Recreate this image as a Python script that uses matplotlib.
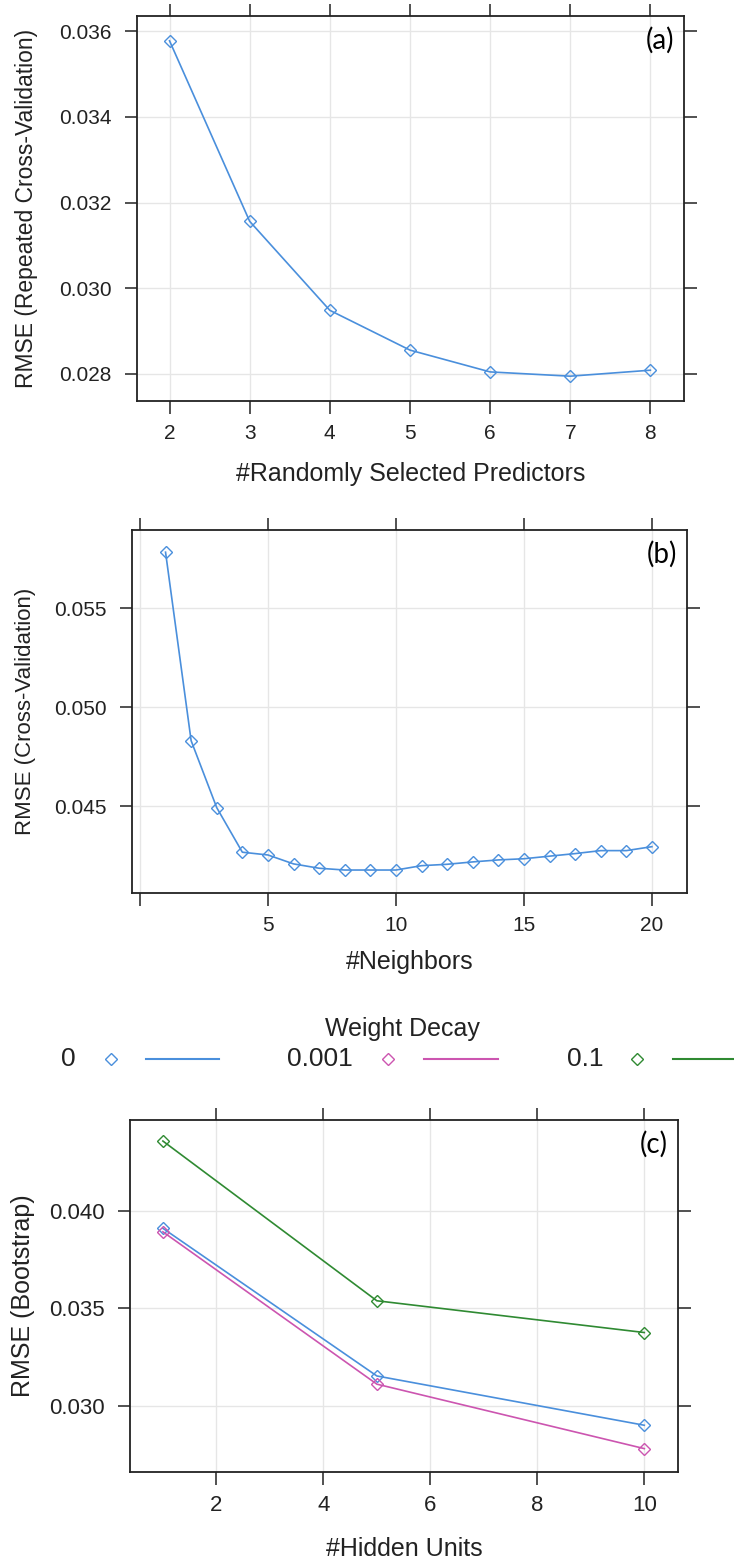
import matplotlib
matplotlib.use("Agg")
import matplotlib.pyplot as plt
from matplotlib.lines import Line2D

# ---- data ----
mtry = [2, 3, 4, 5, 6, 7, 8]
rmse_rf = [0.03578, 0.03156, 0.02948, 0.02855, 0.02804, 0.02794, 0.02808]

neighbors = list(range(1, 21))
rmse_knn = [0.05784, 0.04832, 0.04494, 0.04269, 0.04255, 0.04210, 0.04188,
            0.04179, 0.04179, 0.04179, 0.04201, 0.04208, 0.04220, 0.04230,
            0.04236, 0.04249, 0.04262, 0.04277, 0.04277, 0.04297]

hidden_units = [1, 5, 10]
decay_labels = ["0", "0.001", "0.1"]
rmse_nn = {
    "0": [0.03910, 0.03152, 0.02899],
    "0.001": [0.03892, 0.03110, 0.02779],
    "0.1": [0.04358, 0.03538, 0.03375],
}

BLUE = "#4a8fdc"
PINK = "#cc55b0"
GREEN = "#2f8a32"
decay_colors = [BLUE, PINK, GREEN]

W, H = 734, 1562
TICK_FONT = ["Liberation Sans Narrow", "Liberation Sans", "DejaVu Sans"]
LAB_FONT = ["Liberation Sans", "DejaVu Sans"]
INK = "#222222"

fig = plt.figure(figsize=(W / 100, H / 100), dpi=100)


def make_ax(left, top, right, bottom):
    return fig.add_axes([left / W, 1 - bottom / H, (right - left) / W, (bottom - top) / H])


def style(ax, box, xlim, ylim, xticks, xticklabels, yticks, yticklabels,
          xlabel, ylabel, tag, ylab_px, xlab_off, tick_fs, ylab_fs):
    left, top, right, bottom = box
    ax.set_xlim(*xlim)
    ax.set_ylim(*ylim)
    ax.set_xticks(xticks)
    ax.set_xticklabels(xticklabels, family=TICK_FONT, fontsize=tick_fs, color=INK)
    ax.set_yticks(yticks)
    ax.set_yticklabels(yticklabels, family=TICK_FONT, fontsize=tick_fs, color=INK)
    ax.tick_params(direction="out", length=9, width=1.1, top=True, right=True, color=INK)
    ax.tick_params(axis="x", pad=7.5)
    ax.tick_params(axis="y", pad=9.5)
    for s in ax.spines.values():
        s.set_linewidth(1.3)
        s.set_color(INK)
    ax.grid(True, color="#e6e6e6", lw=1)
    ax.set_axisbelow(True)
    ax.set_xlabel(xlabel, family=LAB_FONT, fontsize=18, color=INK)
    ax.set_ylabel(ylabel, family=LAB_FONT, fontsize=ylab_fs, color=INK)
    wpx = right - left
    hpx = bottom - top
    ax.xaxis.set_label_coords(0.5, -(xlab_off / hpx))
    ax.yaxis.set_label_coords((ylab_px - left) / wpx, 0.5)
    ax.text(1 - 10 / wpx, 1 - 24 / hpx, tag, transform=ax.transAxes,
            ha="right", va="center", fontsize=20, family=["Lato", "DejaVu Sans"])


mk = dict(marker="D", markersize=6, markerfacecolor="none", markeredgewidth=1, lw=1.2)

# (a) random forest
box_a = (137, 16, 684, 401)
ax1 = make_ax(*box_a)
ax1.plot(mtry, rmse_rf, color=BLUE, markeredgecolor=BLUE, **mk)
style(ax1, box_a, (1.594, 8.42), (0.02736, 0.03636),
      mtry, [str(m) for m in mtry],
      [0.028, 0.030, 0.032, 0.034, 0.036], ["0.028", "0.030", "0.032", "0.034", "0.036"],
      "#Randomly Selected Predictors", "RMSE (Repeated Cross-Validation)", "(a)",
      38, 61, 15, 16.5)

# (b) k nearest neighbours
box_b = (132, 530, 687, 893)
ax2 = make_ax(*box_b)
ax2.plot(neighbors, rmse_knn, color=BLUE, markeredgecolor=BLUE, **mk)
style(ax2, box_b, (-0.31, 21.37), (0.04063, 0.05896),
      [0, 5, 10, 15, 20], ["", "5", "10", "15", "20"],
      [0.045, 0.050, 0.055], ["0.045", "0.050", "0.055"],
      "#Neighbors", "RMSE (Cross-Validation)", "(b)",
      36, 57, 15, 16)

# (c) neural network
box_c = (130, 1120, 678, 1472)
ax3 = make_ax(*box_c)
for lab, col in zip(decay_labels, decay_colors):
    ax3.plot(hidden_units, rmse_nn[lab], color=col, markeredgecolor=col, **mk)
style(ax3, box_c, (0.385, 10.63), (0.02659, 0.04466),
      [2, 4, 6, 8, 10], ["2", "4", "6", "8", "10"],
      [0.030, 0.035, 0.040], ["0.030", "0.035", "0.040"],
      "#Hidden Units", "RMSE (Bootstrap)", "(c)",
      35, 65, 16, 18)

# legend drawn lattice style: label, marker, line
fig.text(402 / W, 1 - 1029 / H, "Weight Decay", ha="center", va="center",
         fontsize=18, family=LAB_FONT, color=INK)
row_y = 1 - 1059 / H
text_x = [68, 320, 585]
mark_x = [111, 388, 637]
line_x = [(146, 219), (424, 498), (673, 740)]
for lab, col, tx, mx, (l0, l1) in zip(decay_labels, decay_colors, text_x, mark_x, line_x):
    fig.text(tx / W, row_y, lab, ha="center", va="center", fontsize=19,
             family=TICK_FONT, color=INK)
    fig.add_artist(Line2D([mx / W], [row_y], marker="D", markersize=6,
                          markerfacecolor="none", markeredgecolor=col,
                          markeredgewidth=1, transform=fig.transFigure))
    fig.add_artist(Line2D([l0 / W, l1 / W], [row_y, row_y], color=col, lw=1.5,
                          transform=fig.transFigure))

fig.savefig("out.png", dpi=100)
